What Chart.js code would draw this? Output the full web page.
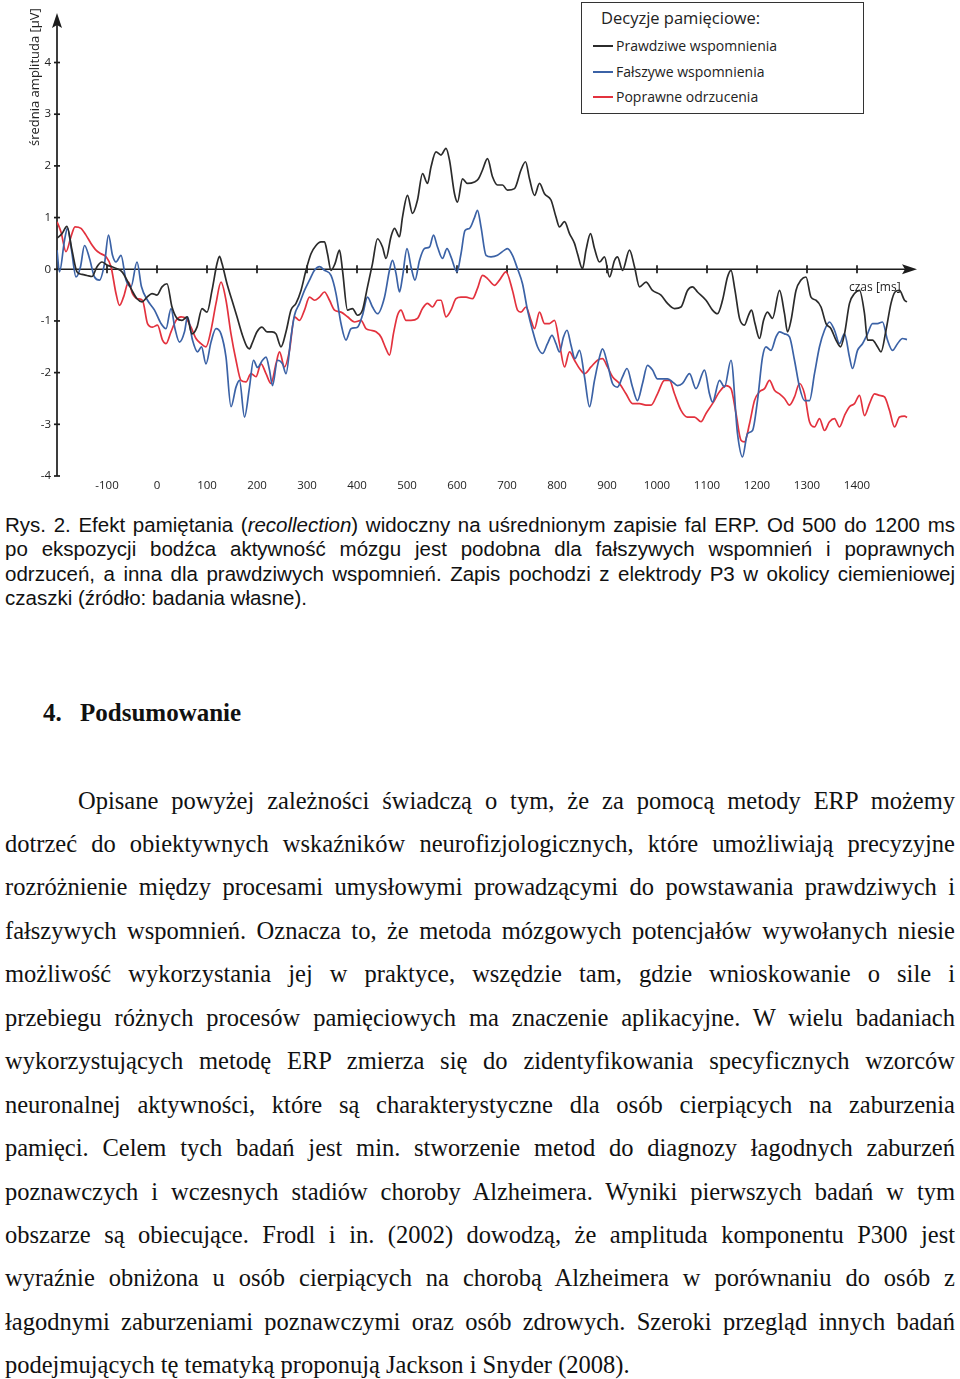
<!DOCTYPE html>
<html lang="pl">
<head>
<meta charset="utf-8">
<script src="https://cdn.jsdelivr.net/npm/chart.js@4.4.1/dist/chart.umd.min.js"></script>
<style>
  html, body { margin: 0; padding: 0; background: #fff; }
  body { width: 960px; height: 1379px; position: relative; overflow: hidden; }
  #chartBox { position: absolute; left: 0; top: 0; width: 960px; height: 500px; }
  #legend { position: absolute; left: 581px; top: 2px; width: 281px; height: 110px;
            border: 1.5px solid #333; background: #fff; font-family: 'Open Sans', sans-serif; color: #222; }
  #legend .ttl { position: absolute; left: 19px; top: 3px; font-size: 16.5px; line-height: 24px; white-space: nowrap; }
  #legend .item { position: absolute; left: 11px; height: 20px; white-space: nowrap; font-size: 14px; line-height: 20px; }
  #legend .item span.sw { display: inline-block; width: 20px; height: 1.6px; vertical-align: middle; margin-right: 3px; position: relative; top: -1px; }
  #caption { position: absolute; left: 5px; top: 512.5px; width: 950px; font-family: 'Liberation Sans', Arial, sans-serif;
             font-size: 20.5px; line-height: 24.5px; color: #111; }
  .j { text-align: justify; text-align-last: justify; white-space: nowrap; }
  .l { text-align: left; white-space: nowrap; }
  #heading { position: absolute; left: 43px; top: 698px; font-family: 'Liberation Serif', 'Times New Roman', serif;
             font-weight: bold; font-size: 25px; line-height: 30px; color: #111; white-space: nowrap; }
  #heading .num { display: inline-block; width: 37px; }
  #para { position: absolute; left: 5px; top: 778.5px; width: 950px; font-family: 'Liberation Serif', 'Times New Roman', serif;
          font-size: 24.5px; line-height: 43.46px; color: #111; }
  #para .first { padding-left: 73px; }
</style>
</head>
<body>
<div id="chartBox"><canvas id="c" width="960" height="500"></canvas></div>
<div id="legend"></div>
<div id="caption">
  <div class="j">Rys. 2. Efekt pamiętania (<i>recollection</i>) widoczny na uśrednionym zapisie fal ERP. Od 500 do 1200 ms</div>
  <div class="j">po ekspozycji bodźca aktywność mózgu jest podobna dla fałszywych wspomnień i poprawnych</div>
  <div class="j">odrzuceń, a inna dla prawdziwych wspomnień. Zapis pochodzi z elektrody P3 w okolicy ciemieniowej</div>
  <div class="l">czaszki (źródło: badania własne).</div>
</div>
<div id="heading"><span class="num">4.</span>Podsumowanie</div>
<div id="para">
  <div class="j first">Opisane powyżej zależności świadczą o tym, że za pomocą metody ERP możemy</div>
  <div class="j">dotrzeć do obiektywnych wskaźników neurofizjologicznych, które umożliwiają precyzyjne</div>
  <div class="j">rozróżnienie między procesami umysłowymi prowadzącymi do powstawania prawdziwych i</div>
  <div class="j">fałszywych wspomnień. Oznacza to, że metoda mózgowych potencjałów wywołanych niesie</div>
  <div class="j">możliwość wykorzystania jej w praktyce, wszędzie tam, gdzie wnioskowanie o sile i</div>
  <div class="j">przebiegu różnych procesów pamięciowych ma znaczenie aplikacyjne. W wielu badaniach</div>
  <div class="j">wykorzystujących metodę ERP zmierza się do zidentyfikowania specyficznych wzorców</div>
  <div class="j">neuronalnej aktywności, które są charakterystyczne dla osób cierpiących na zaburzenia</div>
  <div class="j">pamięci. Celem tych badań jest min. stworzenie metod do diagnozy łagodnych zaburzeń</div>
  <div class="j">poznawczych i wczesnych stadiów choroby Alzheimera. Wyniki pierwszych badań w tym</div>
  <div class="j">obszarze są obiecujące. Frodl i in. (2002) dowodzą, że amplituda komponentu P300 jest</div>
  <div class="j">wyraźnie obniżona u osób cierpiących na chorobą Alzheimera w porównaniu do osób z</div>
  <div class="j">łagodnymi zaburzeniami poznawczymi oraz osób zdrowych. Szeroki przegląd innych badań</div>
  <div class="l">podejmujących tę tematyką proponują Jackson i Snyder (2008).</div>
</div>
<script>
// ---- data ----
const legendTitle = 'Decyzje pamięciowe:';
const seriesNames = ['Prawdziwe wspomnienia', 'Fałszywe wspomnienia', 'Poprawne odrzucenia'];
const yAxisTitle = 'średnia amplituda [µV]';
const xAxisTitle = 'czas [ms]';
const xTickLabels = [-100, 0, 100, 200, 300, 400, 500, 600, 700, 800, 900, 1000, 1100, 1200, 1300, 1400];
const yTickLabels = [-4, -3, -2, -1, 0, 1, 2, 3, 4];

const trueTimes = [-200,-190,-180,-170,-160,-150,-140,-130,-120,-110,-100,-90,-80,-70,-60,-50,-40,-30,-20,-10,0,10,20,30,40,50,60,70,80,90,100,110,120,125,130,140,150,160,170,180,185,190,200,210,220,230,238,248,258,268,278,288,298,308,318,328,335,341,348,356,365,371,381,391,401,411,421,431,441,451,458,468,475,485,491,501,511,521,531,541,548,558,568,578,585,595,601,611,621,635,643,651,661,671,681,691,701,715,728,737,745,755,765,775,788,798,805,815,825,835,841,851,858,867,875,885,895,905,915,921,931,945,955,965,978,991,1008,1021,1035,1048,1061,1071,1081,1098,1111,1121,1131,1141,1148,1156,1165,1175,1183,1189,1196,1205,1213,1221,1231,1245,1255,1261,1268,1278,1288,1298,1308,1318,1328,1338,1348,1358,1367,1375,1385,1395,1405,1415,1421,1431,1441,1448,1458,1468,1476,1485,1495,1500];
const trueValues = [0.6,0.69,0.83,0.37,-0.05,-0.1,-0.12,-0.14,0.05,0.14,0.08,0.05,0.01,-0.05,-0.21,-0.41,-0.57,-0.63,-0.54,-0.47,-0.5,-0.34,-0.28,-0.73,-0.95,-0.99,-0.92,-1.25,-1.12,-0.76,-0.83,-0.41,0.11,0.25,0.11,-0.28,-0.6,-0.92,-1.25,-1.5,-1.54,-1.44,-1.21,-1.12,-1.21,-1.21,-1.25,-1.5,-1.21,-0.79,-0.66,-0.41,-0.02,0.3,0.46,0.53,0.53,0.3,-0.02,0.11,0.37,-0.02,-0.79,-0.76,-0.89,-0.79,-0.34,0.11,0.59,0.43,0.21,0.63,0.79,0.63,1.01,1.43,1.08,1.34,1.85,1.66,1.98,2.27,2.21,2.34,2.11,1.46,1.3,1.75,1.66,1.69,1.75,1.92,2.14,1.79,1.63,1.63,1.53,1.56,1.92,2.08,1.75,1.43,1.66,1.46,1.34,1.01,0.82,0.92,0.69,0.5,0.3,0.01,0.37,0.69,0.4,0.14,0.24,-0.15,0.17,0.24,-0.02,0.37,0.05,-0.34,-0.25,-0.41,-0.5,-0.66,-0.76,-0.73,-0.41,-0.34,-0.44,-0.6,-0.79,-0.86,-0.6,-0.15,-0.02,-0.41,-0.95,-1.08,-0.89,-0.79,-1.05,-1.34,-0.99,-0.83,-0.95,-0.41,-0.86,-1.21,-0.99,-0.41,-0.21,-0.15,-0.54,-0.6,-0.73,-1.05,-1.15,-1.37,-1.5,-1.25,-0.66,-0.47,-0.41,-0.86,-1.37,-1.37,-1.5,-1.6,-1.18,-0.66,-0.44,-0.41,-0.6,-0.63];

const falseTimes = [-200,-195,-185,-179,-171,-162,-153,-145,-135,-125,-115,-105,-97,-89,-82,-72,-62,-52,-40,-31,-19,-5,8,18,28,36,45,55,61,71,81,89,98,108,118,128,138,148,158,165,175,185,193,201,211,218,225,231,241,251,258,268,275,285,295,305,315,325,335,348,358,368,378,388,401,411,421,431,441,455,465,471,478,485,491,500,508,516,525,535,545,553,561,571,580,588,600,608,616,625,635,641,648,658,668,681,695,701,711,721,731,741,751,761,771,781,790,798,805,813,820,828,836,845,855,865,875,885,891,901,911,921,931,940,951,961,971,981,991,1001,1011,1021,1031,1041,1051,1065,1078,1095,1105,1111,1125,1135,1148,1161,1171,1181,1191,1201,1211,1218,1228,1238,1245,1255,1265,1275,1285,1295,1305,1315,1325,1335,1345,1355,1365,1375,1385,1391,1401,1411,1421,1431,1441,1451,1461,1471,1481,1491,1500];
const falseValues = [0.37,-0.05,0.56,0.79,0.37,-0.15,0.05,0.46,0.21,-0.15,-0.21,0.11,0.66,0.27,0.14,0.27,-0.21,-0.34,0.14,-0.34,-0.6,-0.79,-1.05,-1.15,-0.76,-1.15,-1.41,-1.21,-0.92,-1.37,-1.6,-1.5,-1.83,-1.41,-1.15,-1.25,-1.7,-2.66,-2.28,-2.15,-2.86,-2.28,-1.76,-1.9,-1.76,-1.7,-1.95,-2.25,-1.76,-1.83,-2.02,-1.31,-0.89,-0.66,-0.41,-0.21,-0.02,0.05,-0.02,-0.12,-0.47,-1.05,-1.37,-1.15,-1.12,-0.89,-0.54,-0.73,-0.86,-0.54,-0.02,0.17,-0.08,-0.44,-0.15,0.4,0.05,-0.21,0.17,0.4,0.43,0.66,0.43,0.21,0.4,0.24,-0.05,0.3,0.75,0.79,1.0,1.14,0.82,0.27,0.24,0.27,0.37,0.4,0.27,0.01,-0.28,-0.79,-1.18,-1.5,-1.63,-1.44,-1.28,-1.44,-1.6,-1.31,-1.18,-1.47,-1.73,-1.57,-2.08,-2.66,-2.15,-1.7,-1.54,-1.83,-2.21,-2.28,-2.08,-1.92,-2.28,-2.54,-2.21,-1.86,-1.95,-2.12,-2.12,-2.12,-2.18,-2.25,-2.21,-2.02,-2.31,-1.95,-2.41,-2.57,-2.15,-2.28,-1.76,-3.18,-3.63,-3.18,-3.12,-2.54,-1.7,-1.5,-1.57,-1.31,-1.21,-1.25,-1.31,-1.76,-2.28,-2.54,-2.54,-2.02,-1.5,-1.18,-1.02,-1.18,-1.44,-1.25,-1.7,-1.92,-1.57,-1.44,-1.25,-1.05,-1.05,-1.02,-1.37,-1.57,-1.44,-1.34,-1.36];

const rejectTimes = [-200,-192,-182,-172,-164,-152,-142,-132,-122,-112,-102,-92,-82,-75,-67,-57,-49,-39,-29,-19,-9,1,11,18,28,38,48,58,68,78,88,98,108,118,128,138,148,158,168,178,188,198,208,218,228,238,245,255,265,275,285,295,305,315,325,335,345,355,368,381,395,408,418,428,438,448,458,465,473,481,488,498,508,521,531,541,551,561,568,578,588,598,608,618,631,641,651,661,675,685,698,711,721,728,738,748,755,765,775,785,795,805,815,825,835,845,855,868,881,891,901,911,925,938,951,965,978,988,1001,1015,1025,1035,1048,1061,1075,1088,1098,1111,1125,1138,1148,1158,1168,1175,1185,1195,1205,1215,1225,1235,1245,1255,1265,1275,1285,1295,1305,1315,1325,1335,1345,1355,1365,1375,1385,1395,1405,1415,1425,1435,1445,1455,1465,1475,1485,1495,1500];
const rejectValues = [0.92,0.72,0.34,0.63,0.82,0.79,0.66,0.5,0.37,0.3,0.24,0.05,-0.47,-0.7,-0.54,-0.25,-0.47,-0.57,-0.6,-1.05,-1.12,-1.08,-1.37,-1.44,-1.21,-0.99,-0.92,-0.95,-1.12,-1.34,-1.44,-1.5,-1.18,-0.66,-0.25,-0.6,-1.25,-1.76,-2.15,-2.18,-2.02,-2.08,-1.83,-2.02,-2.21,-1.83,-1.6,-1.89,-1.57,-0.92,-0.99,-0.79,-0.54,-0.6,-0.54,-0.44,-0.6,-0.79,-0.83,-0.92,-1.02,-0.99,-1.15,-1.18,-1.21,-1.31,-1.54,-1.66,-1.24,-0.89,-0.79,-0.99,-0.99,-0.95,-0.76,-0.66,-0.73,-0.6,-0.6,-0.92,-0.79,-0.57,-0.54,-0.54,-0.57,-0.37,-0.12,-0.18,-0.31,-0.21,-0.05,-0.41,-0.79,-0.83,-0.73,-0.99,-1.15,-0.83,-1.05,-1.05,-0.99,-1.44,-1.89,-1.6,-1.76,-1.92,-2.02,-1.89,-1.76,-1.73,-1.89,-2.08,-2.21,-2.41,-2.6,-2.6,-2.63,-2.63,-2.41,-2.15,-2.15,-2.41,-2.73,-2.86,-2.86,-2.95,-2.79,-2.6,-2.37,-2.25,-2.31,-2.79,-3.31,-3.34,-2.99,-2.54,-2.37,-2.31,-2.15,-2.34,-2.41,-2.5,-2.63,-2.47,-2.21,-2.41,-2.95,-3.05,-2.89,-3.12,-2.95,-2.89,-3.05,-2.83,-2.66,-2.6,-2.44,-2.83,-2.6,-2.41,-2.44,-2.47,-2.73,-3.05,-2.86,-2.84,-2.87];

const seriesColors = ['#2b2b2b', '#3b62a6', '#e3323e'];

// ---- build ----
const pts = (ts, vs) => ts.map((t, i) => ({ x: t, y: vs[i] }));
const seriesData = [pts(trueTimes, trueValues), pts(falseTimes, falseValues), pts(rejectTimes, rejectValues)];

const axesPlugin = {
  id: 'erpAxes',
  beforeDatasetsDraw(chart) {
    const { ctx, chartArea: a, scales: { x, y } } = chart;
    const y0 = y.getPixelForValue(0);
    const yb = y.getPixelForValue(-4);
    ctx.save();
    ctx.strokeStyle = '#1c1c1c';
    ctx.fillStyle = '#1c1c1c';
    ctx.lineWidth = 1.7;
    ctx.beginPath(); ctx.moveTo(a.left, a.top + 10); ctx.lineTo(a.left, yb); ctx.stroke();
    ctx.beginPath(); ctx.moveTo(a.left, a.top); ctx.lineTo(a.left - 5, a.top + 15); ctx.lineTo(a.left, a.top + 12); ctx.lineTo(a.left + 5, a.top + 15); ctx.closePath(); ctx.fill();
    yTickLabels.forEach(v => { const p = y.getPixelForValue(v); ctx.beginPath(); ctx.moveTo(a.left - 3, p); ctx.lineTo(a.left + 3, p); ctx.stroke(); });
    ctx.beginPath(); ctx.moveTo(a.left, y0); ctx.lineTo(a.right - 10, y0); ctx.stroke();
    ctx.beginPath(); ctx.moveTo(a.right, y0); ctx.lineTo(a.right - 15, y0 - 5); ctx.lineTo(a.right - 12, y0); ctx.lineTo(a.right - 15, y0 + 5); ctx.closePath(); ctx.fill();
    xTickLabels.forEach(v => { const p = x.getPixelForValue(v); ctx.beginPath(); ctx.moveTo(p, y0 - 4); ctx.lineTo(p, y0 + 4); ctx.stroke(); });
    ctx.restore();
  },
  afterDraw(chart) {
    const { ctx, scales: { x, y } } = chart;
    ctx.save();
    ctx.fillStyle = '#222';
    ctx.font = "13px 'Open Sans', sans-serif";
    ctx.textBaseline = 'middle';
    ctx.translate(35, 146);
    ctx.rotate(-Math.PI / 2);
    ctx.textAlign = 'left';
    ctx.fillText(yAxisTitle, 0, 0);
    ctx.restore();
    ctx.save();
    ctx.fillStyle = '#222';
    ctx.font = "12px 'Open Sans', sans-serif";
    ctx.textBaseline = 'middle';
    ctx.textAlign = 'left';
    ctx.fillText(xAxisTitle, x.getPixelForValue(1384), y.getPixelForValue(-0.36));
    ctx.restore();
  }
};

new Chart(document.getElementById('c'), {
  type: 'line',
  data: {
    datasets: seriesData.map((d, i) => ({
      label: seriesNames[i], data: d, borderColor: seriesColors[i], borderWidth: 1.7,
      pointRadius: 0, fill: false, cubicInterpolationMode: 'monotone'
    }))
  },
  options: {
    responsive: false, animation: false, devicePixelRatio: 1,
    layout: { padding: { left: 0, top: 12, right: 43, bottom: 0 } },
    plugins: { legend: { display: false }, tooltip: { enabled: false } },
    scales: {
      x: {
        type: 'linear', min: -200, max: 1520,
        grid: { display: false, drawTicks: false }, border: { display: false },
        afterBuildTicks: s => { s.ticks = xTickLabels.map(v => ({ value: v })); },
        afterFit: s => { s.height = 24; },
        ticks: { padding: 3, autoSkip: false, maxRotation: 0, color: '#222', callback: v => String(v),
                 font: { family: "'Open Sans', sans-serif", size: 11.5 } }
      },
      y: {
        type: 'linear', min: -4, max: 4.96,
        grid: { display: false, drawTicks: false }, border: { display: false },
        afterBuildTicks: s => { s.ticks = yTickLabels.map(v => ({ value: v })); },
        afterFit: s => { s.width = 57; },
        ticks: { padding: 6, autoSkip: false, color: '#222', callback: v => String(v),
                 font: { family: "'Open Sans', sans-serif", size: 11.5 } }
      }
    }
  },
  plugins: [axesPlugin]
});

// legend (HTML)
const lg = document.getElementById('legend');
const t = document.createElement('div'); t.className = 'ttl'; t.textContent = legendTitle; lg.appendChild(t);
const tops = [33, 58.5, 84];
seriesNames.forEach((n, i) => {
  const it = document.createElement('div'); it.className = 'item'; it.style.top = tops[i] + 'px';
  const sw = document.createElement('span'); sw.className = 'sw'; sw.style.background = seriesColors[i];
  it.appendChild(sw); it.appendChild(document.createTextNode(n)); lg.appendChild(it);
});
</script>
</body>
</html>
